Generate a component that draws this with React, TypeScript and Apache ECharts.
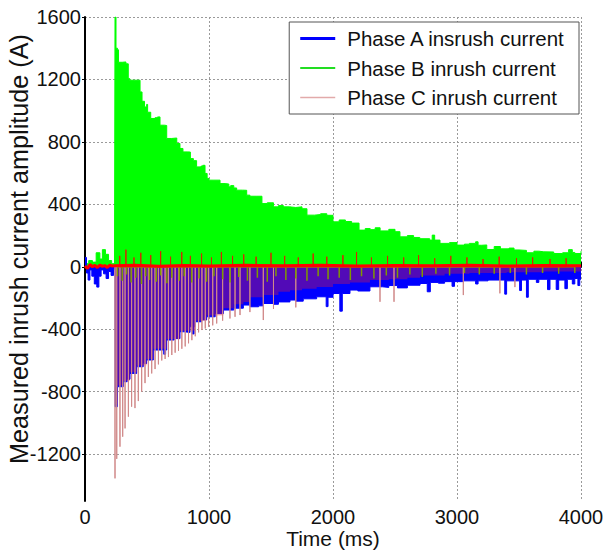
import React, { useEffect, useRef } from 'react';
import * as echarts from 'echarts';

const SANS = '"Liberation Sans", Arial, Helvetica, sans-serif';

const seriesNames = ['Phase A insrush current', 'Phase B inrush current', 'Phase C inrush current'];
const xTicks = [0, 1000, 2000, 3000, 4000];
const yTicks = [-1200, -800, -400, 0, 400, 800, 1200, 1600];

// Phase B (green) upper envelope, [time ms, current A]
const phaseBUpper: [number, number][] = [
  [0, 20], [30, 40], [60, 30], [90, 90], [120, 50], [140, 110], [165, 80], [190, 40], [215, 20], [238, 10],
  [242, 1600], [250, 1400], [262, 1390], [270, 1310], [300, 1312], [330, 1300], [349, 1206], [360, 1195],
  [400, 1195], [444, 1120], [460, 1060], [480, 1024], [497, 1040], [505, 990], [530, 950], [565, 955],
  [585, 960], [605, 907], [640, 905], [659, 822], [700, 825], [740, 790], [766, 758], [790, 736], [830, 735],
  [850, 693], [874, 680], [900, 640], [935, 645], [950, 650], [968, 598], [985, 566], [1000, 555], [1040, 555],
  [1089, 533], [1130, 530], [1160, 512], [1175, 520], [1200, 505], [1223, 491], [1270, 490], [1304, 459],
  [1330, 452], [1380, 452], [1427, 405], [1470, 410], [1520, 384], [1560, 392], [1600, 384], [1650, 380],
  [1700, 384], [1750, 372], [1790, 331], [1850, 335], [1900, 340], [1950, 330], [2000, 288], [2050, 300],
  [2100, 290], [2150, 280], [2210, 235], [2260, 245], [2300, 238], [2340, 250], [2380, 230], [2450, 240],
  [2500, 225], [2540, 192], [2600, 200], [2650, 188], [2700, 180], [2780, 171], [2800, 203], [2820, 171],
  [2863, 150], [2940, 155], [3000, 139], [3060, 145], [3100, 150], [3150, 160], [3170, 138], [3200, 140],
  [3240, 111], [3300, 130], [3350, 115], [3420, 120], [3460, 108], [3500, 105], [3560, 90], [3620, 100],
  [3660, 96], [3700, 95], [3780, 85], [3852, 90], [3900, 110], [3930, 92], [3950, 85], [4000, 100],
];

// Phase B downward spikes (seen olive over the negative region)
const phaseBDownSpikes: [number, number][] = [
  [262, -60], [300, -90], [335, -50], [372, -100], [410, -70], [455, -110], [490, -60], [520, -85], [575, -95],
  [610, -55], [660, -105], [700, -70], [760, -90], [800, -60], [860, -100], [920, -75], [980, -95], [1040, -60],
  [1110, -80], [1170, -100], [1240, -65], [1310, -90], [1390, -70], [1470, -95], [1540, -60], [1620, -85],
  [1700, -75], [1790, -90], [1880, -60], [1960, -80], [2050, -70], [2140, -85], [2230, -60], [2330, -75],
  [2430, -55], [2520, -70], [2620, -50], [2720, -65], [2830, -45], [2940, -55], [3060, -40], [3180, -50],
  [3300, -45], [3430, -40], [3560, -50], [3690, -40], [3820, -45], [3950, -40],
];

// Phase A (blue) lower envelope
const phaseALower: [number, number][] = [
  [0, 60], [12, -40], [25, -85], [40, -20], [55, -60], [75, -110], [95, -130], [112, -60], [130, -20],
  [150, -45], [170, -75], [190, -30], [210, -55], [230, -15], [242, -896], [262, -768], [309, -736],
  [340, -720], [363, -683], [417, -640], [470, -620], [497, -597], [551, -533], [635, -560], [650, -533],
  [659, -469], [720, -460], [766, -416], [800, -420], [847, -384], [865, -430], [880, -384], [887, -352],
  [940, -340], [981, -320], [1050, -300], [1116, -277], [1200, -265], [1277, -245], [1331, -256], [1400, -250],
  [1436, -235], [1520, -240], [1560, -225], [1653, -213], [1700, -220], [1760, -205], [1868, -192],
  [1945, -255], [1960, -195], [2000, -171], [2055, -284], [2075, -171], [2137, -149], [2200, -155],
  [2298, -128], [2400, -132], [2450, -120], [2520, -135], [2600, -118], [2702, -107], [2760, -160],
  [2785, -100], [2850, -105], [2900, -95], [2960, -125], [2980, -95], [3050, -90], [3150, -110], [3170, -90],
  [3250, -85], [3385, -175], [3400, -90], [3505, -152], [3520, -85], [3560, -195], [3575, -80], [3640, -100],
  [3660, -80], [3730, -146], [3750, -80], [3800, -145], [3820, -85], [3870, -140], [3890, -80], [3930, -110],
  [3950, -75], [3975, -120], [3990, -80], [4000, -80],
];

// Phase C dense body (overlaps Phase A, giving the purple band)
const phaseCBody: [number, number][] = [
  [0, 0], [242, -880], [262, -760], [309, -730], [363, -675], [417, -632], [497, -590], [551, -525],
  [659, -462], [766, -410], [887, -345], [981, -312], [1116, -265], [1200, -240], [1277, -225], [1331, -195],
  [1436, -180], [1560, -160], [1653, -150], [1750, -140], [1868, -130], [2000, -110], [2137, -100],
  [2298, -85], [2450, -80], [2600, -70], [2702, -55], [2900, -45], [3100, -40], [3400, -35], [3700, -30],
  [4000, -30],
];

// Phase C negative peaks (thin pink lines)
const phaseCPeaks: [number, number][] = [
  [242, -1355], [256, -1230], [282, -1152], [304, -1088], [323, -1035], [350, -960], [376, -896], [403, -905],
  [430, -860], [457, -800], [484, -745], [511, -705], [538, -683], [565, -655], [592, -625], [619, -600],
  [646, -590], [673, -578], [700, -565], [727, -550], [754, -538], [781, -525], [808, -510], [835, -490],
  [862, -470], [889, -445], [916, -420], [943, -405], [970, -395], [997, -384], [1030, -375], [1062, -363],
  [1110, -345], [1169, -331], [1210, -320], [1250, -309], [1330, -290], [1438, -341], [1520, -270],
  [1700, -260], [2379, -224], [2492, -224], [3051, -181], [3346, -170], [3467, -130],
];

// Phase C near-zero band and its positive spikes
const phaseCBand: [number, number][] = [
  [0, 5], [20, -10], [40, 15], [60, 0], [80, 10], [100, -5], [120, 12], [140, 3], [160, 8], [180, -4],
  [200, 10], [220, 5], [242, 6], [400, 10], [600, 4], [800, 9], [1000, 5], [1300, 10], [1600, 6], [1900, 10],
  [2200, 5], [2500, 9], [2800, 6], [3100, 10], [3400, 5], [3700, 9], [4000, 6],
];
const phaseCUpSpikes: [number, number][] = [
  [280, 70], [330, 110], [395, 60], [450, 90], [530, 75], [610, 100], [690, 65], [780, 95], [850, 70],
  [940, 85], [1020, 60], [1100, 95], [1190, 70], [1280, 80], [1380, 65], [1500, 90], [1610, 70], [1720, 60],
  [1840, 85], [1950, 65], [2080, 75], [2190, 95], [2310, 60], [2440, 70], [2570, 60], [2690, 75], [2820, 55],
  [2950, 70], [3080, 60], [3210, 50], [3340, 65], [3480, 55], [3610, 60], [3750, 50], [3880, 55],
];

const spikes = (pairs: [number, number][]) =>
  pairs.flatMap(([t, v]) => [[t, 0], [t, v], [t, 0]]);

export default function App() {
  const ref = useRef<HTMLDivElement>(null);
  useEffect(() => {
    if (!ref.current) return;
    const chart = echarts.init(ref.current, undefined, { renderer: 'svg' });
    const gridLine = { show: true, lineStyle: { color: '#9a9a9a', type: [2, 2] as any, width: 1 } };
    const plain = (v: number) => String(v);
    chart.setOption({
      animation: false,
      backgroundColor: '#fff',
      grid: { left: 85, right: 23, top: 17, bottom: 52, containLabel: false, outerBoundsMode: 'none' },
      legend: {
        right: 25,
        top: 22,
        orient: 'vertical',
        backgroundColor: '#fff',
        borderColor: '#555',
        borderWidth: 1,
        borderRadius: 0,
        padding: [4, 13, 4, 11],
        itemGap: 4.5,
        itemWidth: 35,
        itemHeight: 14,
        symbolKeepAspect: true,
        textStyle: { fontFamily: SANS, fontSize: 20.5, color: '#111', lineHeight: 25, padding: [0, 0, 0, 7] },
        data: [
          { name: seriesNames[0], icon: 'path://M0 0H35V3H0Z', itemStyle: { color: '#0000ff' } },
          { name: seriesNames[1], icon: 'path://M0 0H35V2H0Z', itemStyle: { color: '#22dd22' } },
          { name: seriesNames[2], icon: 'path://M0 0H35V1.3H0Z', itemStyle: { color: '#e2aaaa' } },
        ],
      },
      xAxis: {
        type: 'value',
        min: xTicks[0],
        max: xTicks[xTicks.length - 1],
        interval: 1000,
        name: 'Time (ms)',
        nameLocation: 'middle',
        nameGap: 27,
        nameMoveOverlap: false,
        nameTextStyle: { fontFamily: SANS, fontSize: 21, color: '#111' },
        axisLine: { lineStyle: { color: '#000', width: 2 } },
        axisTick: { inside: true, length: 5, lineStyle: { color: '#000' } },
        axisLabel: { fontFamily: SANS, fontSize: 20, color: '#111', margin: 6, formatter: plain },
        splitLine: gridLine,
      },
      yAxis: {
        type: 'value',
        min: -1500,
        max: 1600,
        name: 'Measured inrush current amplitude (A)',
        nameLocation: 'middle',
        nameGap: 54,
        nameMoveOverlap: false,
        nameTextStyle: { fontFamily: SANS, fontSize: 25.2, color: '#111', padding: [0, 0, 0, 20] },
        axisLine: { lineStyle: { color: '#000', width: 2 } },
        axisTick: { customValues: yTicks, inside: false, length: 3, lineStyle: { color: '#000' } },
        axisLabel: { customValues: yTicks, fontFamily: SANS, fontSize: 20, color: '#111', margin: 4, formatter: plain },
        splitLine: gridLine,
      },
      series: [
        {
          name: seriesNames[1], type: 'line', step: 'end', symbol: 'none', z: 2,
          data: phaseBUpper,
          lineStyle: { color: '#00ff00', width: 1 },
          areaStyle: { color: '#00ff00', opacity: 1 },
          itemStyle: { color: '#00ff00' },
        },
        {
          name: seriesNames[0], type: 'line', step: 'end', symbol: 'none', z: 3,
          data: phaseALower,
          lineStyle: { color: '#0000ff', width: 1 },
          areaStyle: { color: '#0000ff', opacity: 1 },
          itemStyle: { color: '#0000ff' },
        },
        {
          name: seriesNames[2], type: 'line', symbol: 'none', z: 4,
          data: spikes(phaseCPeaks),
          lineStyle: { color: '#d08888', width: 1 },
          itemStyle: { color: '#d08888' },
        },
        {
          name: seriesNames[2], type: 'line', step: 'end', symbol: 'none', z: 4,
          data: phaseCBody,
          lineStyle: { width: 0, opacity: 0 },
          areaStyle: { color: 'rgba(255,30,30,0.32)', opacity: 1 },
          itemStyle: { color: '#ff0000' },
        },
        {
          name: seriesNames[1], type: 'line', symbol: 'none', z: 5,
          data: spikes(phaseBDownSpikes),
          lineStyle: { color: '#7f9a00', width: 1.5 },
          itemStyle: { color: '#7f9a00' },
        },
        {
          name: seriesNames[2], type: 'line', symbol: 'none', z: 6,
          data: spikes(phaseCUpSpikes),
          lineStyle: { color: '#dd2200', width: 1 },
          itemStyle: { color: '#dd2200' },
        },
        {
          name: seriesNames[2], type: 'line', symbol: 'none', z: 6,
          data: phaseCBand,
          lineStyle: { color: '#ff0000', width: 3 },
          itemStyle: { color: '#ff0000' },
        },
      ],
    });
    return () => chart.dispose();
  }, []);
  return <div ref={ref} style={{ position: 'fixed', left: 0, top: 0, width: 604, height: 553 }} />;
}
